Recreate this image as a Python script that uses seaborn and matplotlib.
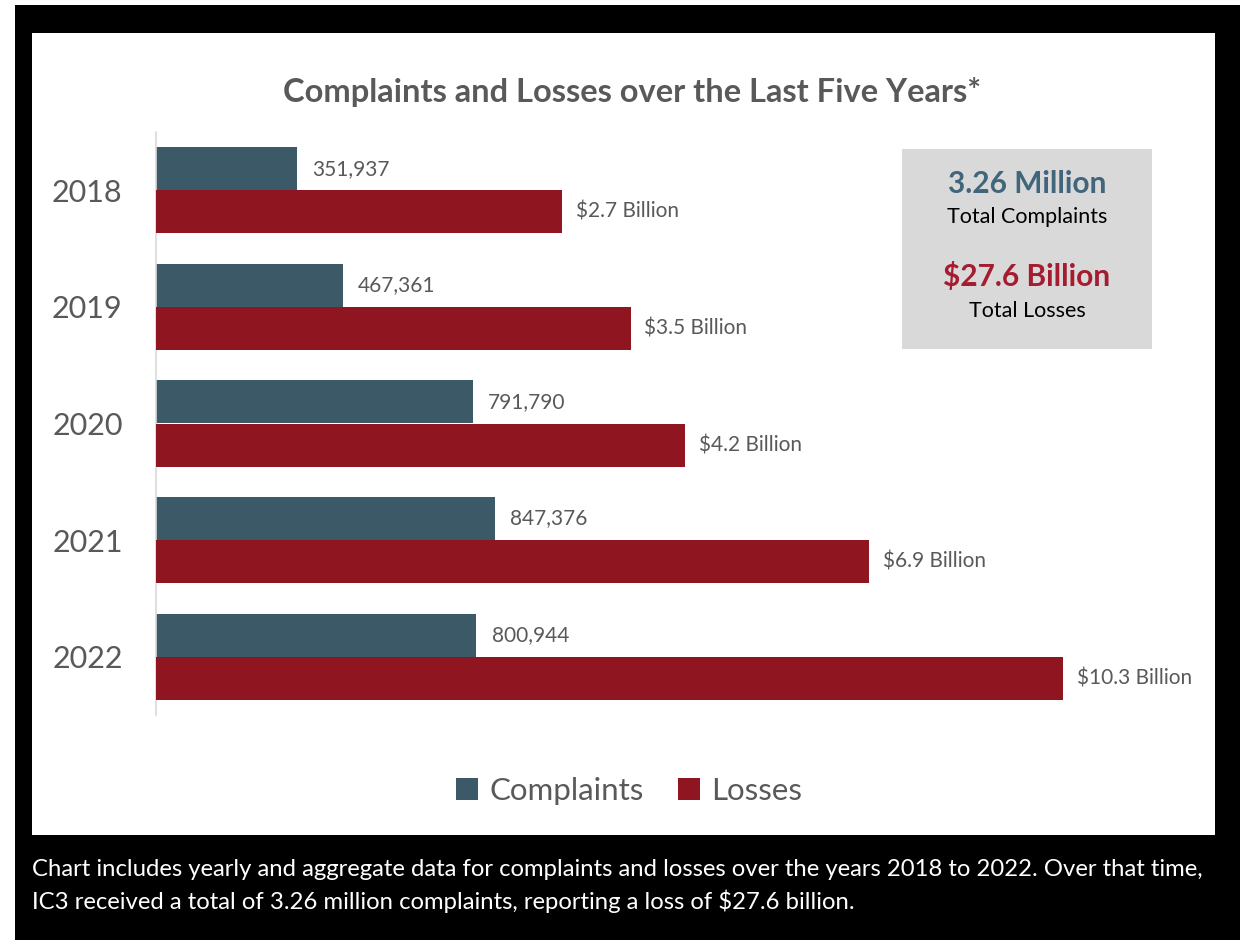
import numpy as np
import pandas as pd
import seaborn as sns
import matplotlib.pyplot as plt
from matplotlib.patches import Rectangle, Patch

# ---- data ----
years = ["2018", "2019", "2020", "2021", "2022"]
complaints = [351937, 467361, 791790, 847376, 800944]
losses_billion = [2.7, 3.5, 4.2, 6.9, 10.3]
series = ["Complaints", "Losses"]
title = "Complaints and Losses over the Last Five Years*"
caption_lines = [
    "Chart includes yearly and aggregate data for complaints and losses over the years 2018 to 2022. Over that time,",
    "IC3 received a total of 3.26 million complaints, reporting a loss of $27.6 billion.",
]

# ---- style ----
c_comp = "#3B5967"
c_loss = "#8F1521"
palette = {"Complaints": c_comp, "Losses": c_loss}

sns.set_theme(style="white")
plt.rcParams["font.family"] = ["Lato", "DejaVu Sans"]

W, H = 1240, 940
fig = plt.figure(figsize=(W / 100, H / 100), dpi=100, facecolor="white")

def fx(px):
    return px / W

def fy(py):
    return 1 - py / H

# black frame and white panel
fig.add_artist(Rectangle((fx(15), 0), 1 - fx(15), fy(5), transform=fig.transFigure,
                         facecolor="black", edgecolor="none", zorder=-3))
fig.add_artist(Rectangle((fx(32), fy(835)), fx(1215) - fx(32), fy(33) - fy(835),
                         transform=fig.transFigure, facecolor="white", edgecolor="none", zorder=-2))
# summary box
fig.add_artist(Rectangle((fx(902), fy(349)), fx(1152) - fx(902), fy(149) - fy(349),
                         transform=fig.transFigure, facecolor="#D9D9D9", edgecolor="none", zorder=-1))

ax = fig.add_axes([fx(156), fy(715), fx(1130) - fx(156), fy(132) - fy(715)])
ax.patch.set_visible(False)

df_c = pd.DataFrame({"Year": years, "Value": complaints, "Series": "Complaints"})
df_l = pd.DataFrame({"Year": years, "Value": losses_billion, "Series": "Losses"})

sns.barplot(data=df_c, x="Value", y="Year", hue="Series", hue_order=series, order=years,
            palette=palette, orient="h", width=0.74, dodge=True, saturation=1,
            linewidth=0, legend=False, ax=ax)

ax2 = ax.twiny()
p = 0.6
ax2.set_xscale("function", functions=(lambda v: np.sign(v) * np.abs(v) ** p,
                                      lambda t: np.sign(t) * np.abs(t) ** (1 / p)))
sns.barplot(data=df_l, x="Value", y="Year", hue="Series", hue_order=series, order=years,
            palette=palette, orient="h", width=0.74, dodge=True, saturation=1,
            linewidth=0, legend=False, ax=ax2)

ax.set_xlim(0, 2.435e6)
ax2.set_xlim(0, 11.6)
ax.set_ylim(4.5, -0.5)

for a in (ax, ax2):
    a.set_xlabel("")
    a.set_ylabel("")
    a.xaxis.set_visible(False)
    for s in a.spines.values():
        s.set_visible(False)
ax.spines["left"].set_visible(True)
ax.spines["left"].set_color("#D9D9D9")
ax.spines["left"].set_linewidth(1.2)
ax.tick_params(axis="y", length=0, pad=24, labelsize=22, labelcolor="#595959")


def full_containers(a):
    return [c for c in a.containers if len(c) > 0 and all(b is not None for b in c)]


for cont in full_containers(ax):
    ax.bar_label(cont, labels=[f"{v:,}" for v in complaints], padding=11,
                 fontsize=15, color="#595959")
for cont in full_containers(ax2):
    ax2.bar_label(cont, labels=[f"${v} Billion" for v in losses_billion], padding=10,
                  fontsize=15, color="#595959")

# title
fig.text(fx(632), fy(92), title, ha="center", va="center", fontsize=23.5,
         fontweight="bold", color="#595959")

# summary box texts
tot_c = sum(complaints) / 1e6
tot_l = sum(losses_billion)
fig.text(fx(1027), fy(184), f"{tot_c:.2f} Million", ha="center", va="center",
         fontsize=21.5, fontweight="bold", color="#41657B")
fig.text(fx(1027), fy(217), "Total Complaints", ha="center", va="center",
         fontsize=15.5, color="black")
fig.text(fx(1027), fy(277), f"${tot_l:.1f} Billion", ha="center", va="center",
         fontsize=21.5, fontweight="bold", color="#A51C30")
fig.text(fx(1027), fy(311), "Total Losses", ha="center", va="center",
         fontsize=15.5, color="black")

# legend
handles = [Patch(facecolor=palette[s], edgecolor="none", label=s) for s in series]
fig.legend(handles=handles, loc="center", bbox_to_anchor=(fx(629), fy(791)), ncol=2,
           frameon=False, fontsize=22.5, handlelength=0.7, handleheight=0.7,
           handletextpad=0.35, columnspacing=1.1, labelcolor="#595959")

# caption
fig.text(fx(32), fy(870), caption_lines[0], ha="left", va="center", fontsize=17.2, color="white")
fig.text(fx(32), fy(901), caption_lines[1], ha="left", va="center", fontsize=17.2, color="white")

fig.savefig("out.png", dpi=100, facecolor=fig.get_facecolor())
